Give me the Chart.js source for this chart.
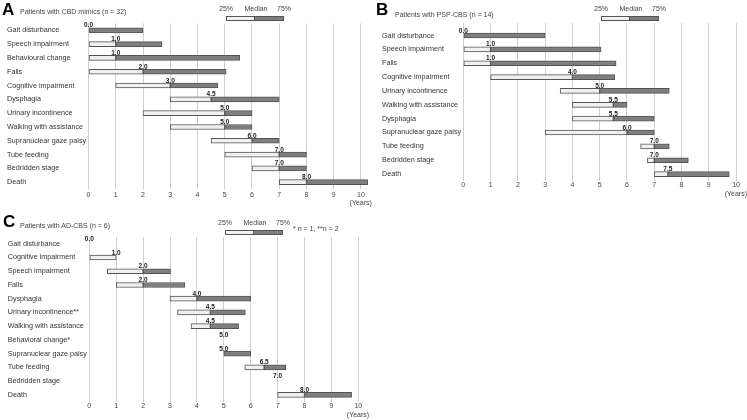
<!DOCTYPE html>
<html>
<head>
<meta charset="utf-8">
<script src="https://cdn.jsdelivr.net/npm/chart.js@4.4.1/dist/chart.umd.min.js"></script>
<style>
    body { margin: 0; background: #fff; }
    #wrap { position: relative; width: 747px; height: 420px; overflow: hidden; font-family: "Liberation Sans", Arial, sans-serif; }
    canvas { position: absolute; }
    .txt { position: absolute; white-space: nowrap; line-height: 1; }
    .letter { font-weight: bold; font-size: 17px; line-height: 17px; color: #000; }
    .title { font-size: 7px; line-height: 7px; color: #444; }
    .leg { font-size: 7px; line-height: 7px; color: #444; transform: translateX(-50%); }
    .box { position: absolute; height: 5px; box-sizing: border-box; border: 1px solid #555; }
    .light { background: #f0f0f0; }
    .dark { background: #7f7f7f; }
</style>
</head>
<body>
<div id="wrap">
    <canvas id="chartA" width="376" height="210" style="left:0;top:0"></canvas>
    <canvas id="chartB" width="371" height="200" style="left:376px;top:0"></canvas>
    <canvas id="chartC" width="376" height="210" style="left:0;top:210px"></canvas>

    <div class="txt letter" style="left:2px;top:1px">A</div>
    <div class="txt title" style="left:20px;top:8px">Patients with CBD mimics (n = 32)</div>
    <div class="txt letter" style="left:376px;top:1px">B</div>
    <div class="txt title" style="left:395px;top:11px">Patients with PSP-CBS (n = 14)</div>
    <div class="txt letter" style="left:3px;top:213px">C</div>
    <div class="txt title" style="left:20px;top:222px">Patients with AD-CBS (n = 6)</div>
    <div class="txt title" style="left:293px;top:224.5px">* n = 1, **n = 2</div>
</div>

<script>
// Panel A - CBD mimics
const eventsA = ['Gait disturbance', 'Speech impairment', 'Behavioural change', 'Falls',
    'Cognitive impairment', 'Dysphagia', 'Urinary incontinence', 'Walking with assistance',
    'Supranuclear gaze palsy', 'Tube feeding', 'Bedridden stage', 'Death'];
const q1A  = [0, 0,   0,    0,    1,    3,   2, 3, 4.5, 5, 6, 7];
const medA = [0, 1,   1,    2,    3,    4.5, 5, 5, 6,   7, 7, 8];
const q3A  = [2, 2.7, 5.55, 5.05, 4.75, 7,   6, 6, 7,   8, 8, 10.25];

// Panel B - PSP-CBS
const eventsB = ['Gait disturbance', 'Speech impairment', 'Falls', 'Cognitive impairment',
    'Urinary incontinence', 'Walking with assistance', 'Dysphagia', 'Supranuclear gaze palsy',
    'Tube feeding', 'Bedridden stage', 'Death'];
const q1B  = [0, 0,    0,   1,    3.55, 4,   4,   3, 6.5,  6.75, 7];
const medB = [0, 1,    1,   4,    5,    5.5, 5.5, 6, 7,    7,    7.5];
const q3B  = [3, 5.05, 5.6, 5.55, 7.55, 6,   7,   7, 7.55, 8.25, 9.75];

// Panel C - AD-CBS (null = no interquartile bar)
const eventsC = ['Gait disturbance', 'Cognitive impairment', 'Speech impairment', 'Falls',
    'Dysphagia', 'Urinary incontinence**', 'Walking with assistance', 'Behavioral change*',
    'Supranuclear gaze palsy', 'Tube feeding', 'Bedridden stage', 'Death'];
const q1C  = [null, 0, 0.67, 1,    3, 3.28, 3.78, null, 5, 5.78, null, 7];
const medC = [0,    1, 2,    2,    4, 4.5,  4.5,  5,    5, 6.5,  7,    8];
const q3C  = [null, 1, 3.02, 3.55, 6, 5.8,  5.55, null, 6, 7.3,  null, 9.75];

const legendText = ['25%', 'Median', '75%'];
const FONT = '"Liberation Sans", Arial, sans-serif';

// Writes the median value above each row
function medianLabels(values) {
    return {
        id: 'medianLabels',
        afterDatasetsDraw(chart) {
            const { ctx, scales: { x, y } } = chart;
            ctx.save();
            ctx.font = 'bold 6.5px ' + FONT;
            ctx.fillStyle = '#222';
            ctx.textAlign = 'center';
            ctx.textBaseline = 'alphabetic';
            values.forEach((v, i) => {
                ctx.fillText(v.toFixed(1), x.getPixelForValue(v), y.getPixelForValue(i) - 3);
            });
            ctx.restore();
        }
    };
}

function makeChart(id, labels, q1, med, q3, lay) {
    const lower = labels.map((_, i) => (q1[i] !== null && q1[i] !== med[i]) ? [q1[i], med[i]] : null);
    const upper = labels.map((_, i) => (q3[i] !== null && q3[i] !== med[i]) ? [med[i], q3[i]] : null);

    const barStyle = {
        grouped: false,
        barThickness: 5,
        borderWidth: 1,
        borderColor: '#555',
        borderSkipped: false
    };

    const scales = {
        x: {
            type: 'linear',
            min: 0,
            max: 10.4,
            afterFit: s => { s.height = lay.xH; },
            ticks: { stepSize: 1, includeBounds: false, padding: lay.tickPad, maxRotation: 0, color: '#444', font: { size: 7, family: FONT } },
            grid: { color: '#d0d0d0', drawTicks: false },
            border: { display: false },
            title: {
                display: true,
                text: '(Years)',
                align: 'end',
                color: '#444',
                font: { size: 7, family: FONT },
                padding: { top: 0, bottom: lay.titlePad }
            }
        },
        y: {
            afterFit: s => { s.width = lay.yW; },
            grid: { display: false },
            border: { display: false },
            ticks: { crossAlign: 'far', padding: 0, autoSkip: false, color: '#333', font: { size: 7.2, family: FONT } }
        }
    };

    // short tick marks above the plot so the grid reaches up to the legend
    if (lay.topTick) {
        scales.xTop = {
            type: 'linear',
            position: 'top',
            min: 0,
            max: 10.4,
            afterFit: s => { s.height = lay.topTick; },
            ticks: { display: false, stepSize: 1, includeBounds: false },
            grid: { drawOnChartArea: false, drawTicks: true, tickLength: lay.topTick, color: '#d0d0d0' },
            border: { display: false }
        };
    }

    return new Chart(document.getElementById(id), {
        type: 'bar',
        data: {
            labels: labels,
            datasets: [
                Object.assign({ label: '25%-Median', data: lower, backgroundColor: '#f0f0f0' }, barStyle),
                Object.assign({ label: 'Median-75%', data: upper, backgroundColor: '#7f7f7f' }, barStyle)
            ]
        },
        options: {
            indexAxis: 'y',
            responsive: false,
            animation: false,
            layout: { padding: lay.pad },
            plugins: { legend: { display: false }, tooltip: { enabled: false } },
            scales: scales
        },
        plugins: [medianLabels(med)]
    });
}

// Small legend box: 25% | Median | 75%
function addLegend(x0, xm, x1, textTop, barTop) {
    const wrap = document.getElementById('wrap');
    const centers = [x0, xm + 2, x1];
    legendText.forEach((t, i) => {
        const d = document.createElement('div');
        d.className = 'txt leg';
        d.style.left = centers[i] + 'px';
        d.style.top = textTop + 'px';
        d.textContent = t;
        wrap.appendChild(d);
    });
    const lo = document.createElement('div');
    lo.className = 'box light';
    lo.style.left = x0 + 'px';
    lo.style.top = barTop + 'px';
    lo.style.width = (xm - x0 + 1) + 'px';
    wrap.appendChild(lo);
    const hi = document.createElement('div');
    hi.className = 'box dark';
    hi.style.left = xm + 'px';
    hi.style.top = barTop + 'px';
    hi.style.width = (x1 - xm) + 'px';
    wrap.appendChild(hi);
}

makeChart('chartA', eventsA, q1A, medA, q3A, {
    pad: { left: 7, right: 4.1, top: 23.4, bottom: 0 }, yW: 81.5, xH: 20.9, tickPad: 2, titlePad: 2.5
});
makeChart('chartB', eventsB, q1B, medB, q3B, {
    pad: { left: 6, right: 0, top: 23, bottom: 0 }, yW: 81.3, xH: 19, tickPad: 0, titlePad: 2.1, topTick: 5.6
});
makeChart('chartC', eventsC, q1C, medC, q3C, {
    pad: { left: 7.7, right: 6.9, top: 26.9, bottom: 0 }, yW: 81.6, xH: 18.3, tickPad: 0, titlePad: 0.8
});

addLegend(226, 254, 284, 5, 16);
addLegend(601, 629, 659, 5, 16);
addLegend(225, 253, 283, 218.5, 230);
</script>
</body>
</html>
